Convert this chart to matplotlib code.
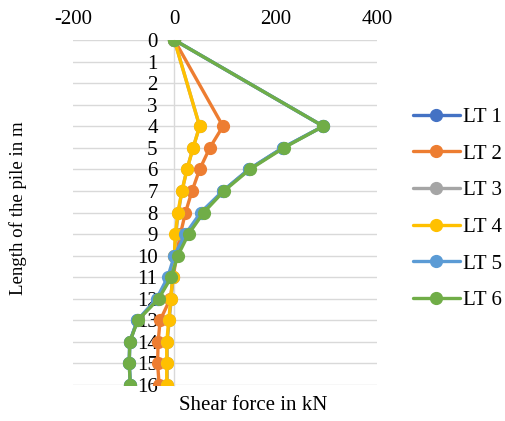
import numpy as np
import matplotlib
matplotlib.use("Agg")
import matplotlib.pyplot as plt

# ---- data ----
depth = list(range(17))
nan = np.nan
LT1 = [0, nan, nan, nan, 294, 214, 147, 96, 55, 25, 4, -8, -33, -73, -88, -89, -87]
LT2 = [0, nan, nan, nan, 96, 70, 50, 35, 22, 12, 4, -2, -8, -28, -32, -33, -30]
LT3 = [0, nan, nan, nan, 50, 37, 25, 15, 8, 3, 0, -3, -6, -10, -14, -14, -14]
LT4 = [0, nan, nan, nan, 50, 37, 25, 15, 7, 2, 0, -3, -7, -11, -15, -15, -15]
LT5 = [0, nan, nan, nan, 294, 214, 147, 96, 52, 22, 0, -13, -35, -73, -88, -89, -87]
LT6 = [0, nan, nan, nan, 294, 216, 149, 98, 58, 28, 7, -6, -31, -72, -88, -89, -87]
series_names = ["LT 1", "LT 2", "LT 3", "LT 4", "LT 5", "LT 6"]
series_values = [LT1, LT2, LT3, LT4, LT5, LT6]
colors = ["#4472C4", "#ED7D31", "#A5A5A5", "#FFC000", "#5B9BD5", "#70AD47"]
x_ticks = [-200, 0, 200, 400]

plt.rcParams["font.family"] = ["Liberation Serif", "DejaVu Serif"]
fs = 15

fig = plt.figure(figsize=(5.06, 4.21), dpi=100)
ax = fig.add_axes([73/506, 1-385/421, (377-73)/506, (385-40)/421])

for s in ["top", "right", "bottom"]:
    ax.spines[s].set_visible(False)
ax.spines["left"].set_position(("data", 0))
ax.spines["left"].set_color("#d9d9d9")
ax.spines["left"].set_linewidth(1.0)

handles = []
for name, vals, c in zip(series_names, series_values, colors):
    v = np.array(vals, dtype=float)
    d = np.array(depth, dtype=float)
    m = ~np.isnan(v)
    h, = ax.plot(v[m], d[m], color=c, lw=2.4, marker="o", ms=8.5, label=name,
                 solid_capstyle="round", solid_joinstyle="round", zorder=3)
    handles.append(h)

ax.set_xlim(x_ticks[0], x_ticks[-1])
ax.set_ylim(16, 0)
ax.set_xticks(x_ticks)
ax.set_xticklabels([str(t) for t in x_ticks])
ax.xaxis.tick_top()
ax.set_yticks(depth)
ax.set_yticklabels([str(d) for d in depth])
ax.tick_params(axis="x", length=0, pad=8, labelsize=fs)
ax.tick_params(axis="y", length=0, pad=12, labelsize=fs)
ax.grid(axis="y", color="#d9d9d9", lw=1.0, zorder=0)
ax.set_axisbelow(True)

fig.text(253/506, 1-405/421, "Shear force in kN", fontsize=fs, ha="center", va="center")
fig.text(18/506, 1-208/421, "Length of the pile in m", fontsize=13.6, ha="center",
         va="center", rotation=90)

fig.legend(handles=handles, loc="center left", bbox_to_anchor=(413/506, 1-209/421),
           frameon=False, fontsize=fs, handlelength=2.25, labelspacing=0.82,
           handletextpad=0.15, borderpad=0, borderaxespad=0)

fig.savefig("out.png", dpi=100)
